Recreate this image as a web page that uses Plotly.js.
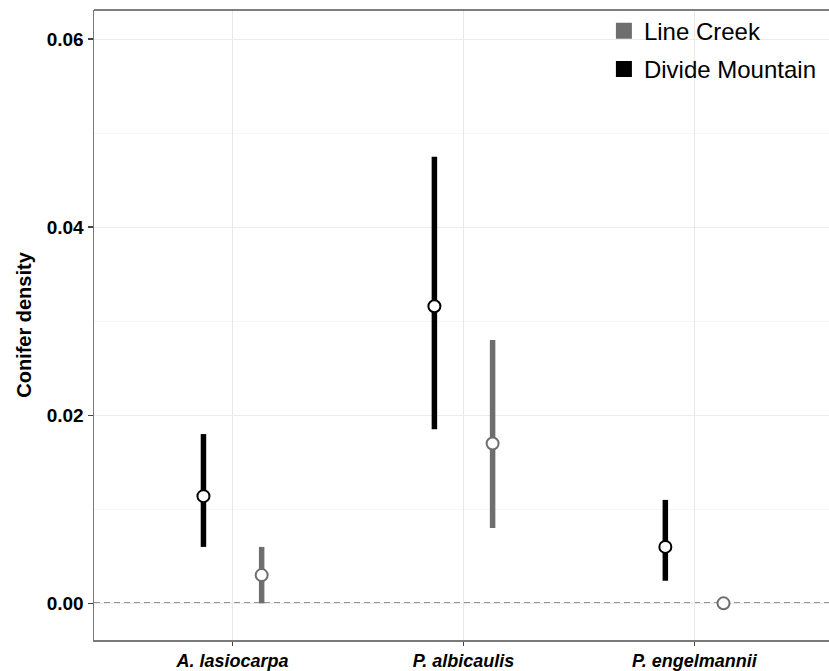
<!DOCTYPE html>
<html><head><meta charset="utf-8">
<script src="https://cdn.plot.ly/plotly-3.0.1.min.js"></script>
<style>html,body{margin:0;padding:0;background:#fff;overflow:hidden}</style>
</head><body><div style="width:829px;height:671px;overflow:hidden"><div id="chart" style="width:833px;height:671px"></div></div>
<script>
const species = ["A. lasiocarpa", "P. albicaulis", "P. engelmannii"];
const dmMean  = [0.0114, 0.0316, 0.0060];
const dmLower = [0.0060, 0.0185, 0.0024];
const dmUpper = [0.0180, 0.0475, 0.0110];
const lcMean  = [0.0030, 0.0170, 0.0000];
const lcLower = [0.0000, 0.0080, 0.0000];
const lcUpper = [0.0060, 0.0280, 0.0000];
const yTicks = [0, 0.02, 0.04, 0.06];
const seriesNames = ["Line Creek", "Divide Mountain"];

const GRAY = "#6e6e6e", BLACK = "#000000";
const DODGE = 0.126;
const idx = species.map((_, i) => i);

function pointTrace(mean, lower, upper, color, shift) {
  return {
    type: "scatter", mode: "markers", showlegend: false, hoverinfo: "skip",
    x: idx.map(i => i + shift), y: mean,
    marker: {symbol: "circle", size: 12, color: "#ffffff", line: {color: color, width: 2}},
    error_y: {type: "data", symmetric: false,
      array: mean.map((m, i) => upper[i] - m),
      arrayminus: mean.map((m, i) => m - lower[i]),
      color: color, thickness: 5.5, width: 0}
  };
}
function legendTrace(name, color) {
  return {type: "scatter", mode: "markers", name: name, legendgroup: name, x: [null], y: [null],
    marker: {symbol: "square", size: 17, color: color}};
}

const data = [
  pointTrace(dmMean, dmLower, dmUpper, BLACK, -DODGE),
  pointTrace(lcMean, lcLower, lcUpper, GRAY, DODGE),
  legendTrace(seriesNames[0], GRAY),
  legendTrace(seriesNames[1], BLACK)
];

const layout = {
  width: 833, height: 671,
  margin: {l: 94, r: 0, t: 9.5, b: 31, pad: 0},
  paper_bgcolor: "#ffffff", plot_bgcolor: "#ffffff",
  font: {family: "Liberation Sans, Arial, sans-serif", color: "#000"},
  showlegend: true,
  legend: {x: 0.69, y: 1.002, xanchor: "left", yanchor: "top", traceorder: "grouped", tracegroupgap: 4,
    bgcolor: "rgba(0,0,0,0)", font: {size: 24, color: "#000"}, itemclick: false},
  xaxis: {
    range: [-0.6, 2.6], tickmode: "array", tickvals: idx, ticktext: species,
    showgrid: true, gridcolor: "#e8e8e8", gridwidth: 1, zeroline: false,
    showline: true, linecolor: "#7a7a7a", linewidth: 1.5,
    ticks: "outside", ticklen: 4, tickwidth: 1.5, tickcolor: "#444",
    tickfont: {size: 18, weight: "bold", style: "italic", color: "#000"}
  },
  yaxis: {
    range: [-0.0039, 0.0631], tickmode: "array", tickvals: yTicks,
    ticktext: yTicks.map(v => v.toFixed(2)),
    showgrid: true, gridcolor: "#ebebeb", gridwidth: 1, zeroline: false,
    minor: {tickmode: "array", tickvals: [0.01, 0.03, 0.05], showgrid: true, gridcolor: "#f6f6f6", gridwidth: 1, ticks: ""},
    showline: true, linecolor: "#7a7a7a", linewidth: 1.5,
    ticks: "outside", ticklen: 5, tickwidth: 1.5, tickcolor: "#444",
    tickfont: {size: 19, weight: "bold", color: "#000"},
    title: {text: "Conifer density", font: {size: 20, weight: "bold", color: "#000"}, standoff: 9}
  },
  shapes: [
    {type: "line", xref: "paper", x0: 0, x1: 1, yref: "y", y0: 0, y1: 0,
     line: {color: "#2a2a2a", width: 1.5, dash: "6px,4px"}, layer: "between"},
    {type: "line", xref: "paper", x0: 0, x1: 1, yref: "paper", y0: 1, y1: 1,
     line: {color: "#000", width: 1.2}}
  ]
};

Plotly.newPlot("chart", data, layout, {staticPlot: true, displayModeBar: false});
</script></body></html>
